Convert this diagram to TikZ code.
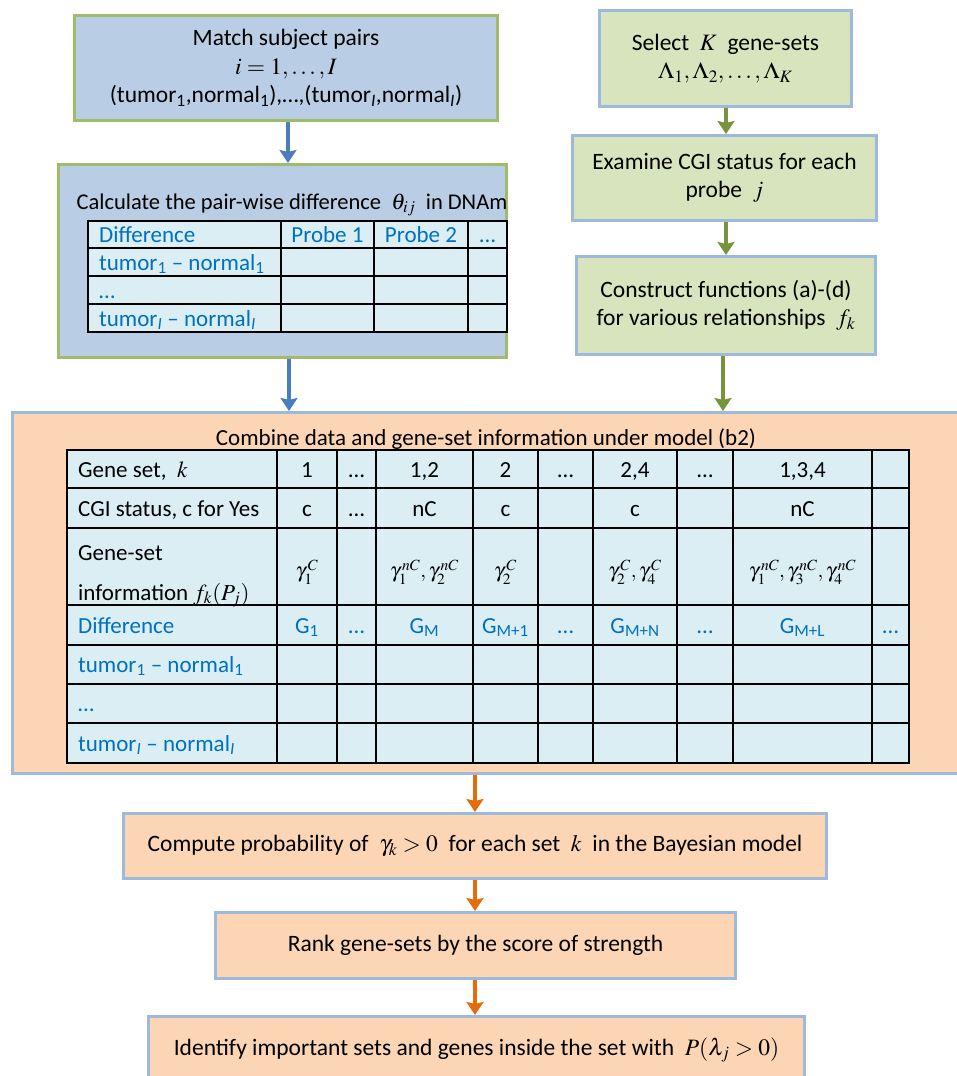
\documentclass[tikz,border=0pt]{standalone}
\usepackage{mathptmx}
\usepackage{fontspec}
\setmainfont{Carlito}
\usetikzlibrary{arrows.meta,calc}
\definecolor{bluefill}{RGB}{185,205,229}
\definecolor{greenedge}{RGB}{160,187,105}
\definecolor{greenfill}{RGB}{215,228,189}
\definecolor{blueedge}{RGB}{157,185,220}
\definecolor{peachfill}{RGB}{252,213,181}
\definecolor{cellfill}{RGB}{218,238,243}
\definecolor{arrblue}{RGB}{74,125,190}
\definecolor{arrgreen}{RGB}{119,147,60}
\definecolor{arrorange}{RGB}{228,108,10}
\definecolor{bluetext}{RGB}{0,112,192}
\begin{document}
\begin{tikzpicture}[x=1pt,y=-1pt,
  bx/.style={line width=3pt, inner sep=0pt, font=\fontsize{23.5}{28.5}\selectfont, align=center},
  bluebx/.style={bx, fill=bluefill, draw=greenedge},
  greenbx/.style={bx, fill=greenfill, draw=blueedge},
  peachbx/.style={bx, fill=peachfill, draw=blueedge},
  txt/.style={font=\fontsize{23}{28}\selectfont, align=center, inner sep=0pt},
  ct/.style={font=\fontsize{23}{28}\selectfont, inner sep=0pt, anchor=base},
  ctl/.style={ct, anchor=base west},
  mt/.style={font=\fontsize{21}{26}\selectfont, inner sep=0pt},
  bt/.style={text=bluetext},
  grid/.style={draw=black, line width=1.8pt},
  arr/.style={line width=4pt, -{Stealth[length=13pt,width=17pt,inset=2pt]}},
]
\useasboundingbox (0,0) rectangle (956,1076);
\fill[white] (0,0) rectangle (956,1076);

% ---------- left column ----------
\node[bluebx, minimum width=423, minimum height=105] (match) at (286,68)
  {Match subject pairs\\ $i=1,\ldots,I$\\
   (tumor\textsubscript{1},normal\textsubscript{1}),…,(tumor\textsubscript{\textit{I}},normal\textsubscript{\textit{I}})};

\node[bluebx, minimum width=448, minimum height=193] (calc) at (282.5,261) {};
\node[txt, font=\fontsize{22.5}{28}\selectfont] (calct) at (292,205) {Calculate the pair-wise difference \ $\theta_{ij}$\ \ in DNAm};

% small table
\fill[cellfill] (88,221) rectangle (507,332);
\foreach \x in {281,374,468} \draw[grid] (\x,221) -- (\x,332);
\foreach \y in {248,276,304} \draw[grid] (88,\y) -- (507,\y);
\draw[grid] (88,221) rectangle (507,332);
\node[ctl,bt] (d00) at (99,242) {Difference};
\node[ct,bt] (d01) at (327.5,242) {Probe 1};
\node[ct,bt] (d02) at (421,242) {Probe 2};
\node[ct,bt] (d03) at (487.5,242) {…};
\node[ctl,bt] (d10) at (99,270) {tumor\textsubscript{1} – normal\textsubscript{1}};
\node[ctl,bt] (d20) at (99,298) {…};
\node[ctl,bt] (d30) at (99,326) {tumor\textsubscript{\textit{I}} – normal\textsubscript{\textit{I}}};

% ---------- right column ----------
\node[greenbx, minimum width=252, minimum height=96] (sel) at (725.5,58.5)
  {Select \ $K$\ \ gene-sets\\ $\Lambda_1,\Lambda_2,\ldots,\Lambda_K$};
\node[greenbx, minimum width=304, minimum height=85] (exam) at (724.5,178)
  {Examine CGI status for each\\ probe \ $j$};
\node[greenbx, minimum width=299, minimum height=98] (cons) at (726,305.5)
  {Construct functions (a)-(d)\\ for various relationships \ $f_k$};

% ---------- combine box ----------
\node[peachbx, minimum width=946, minimum height=361] (comb) at (485,593) {};
\node[txt] (combt) at (486,439) {Combine data and gene-set information under model (b2)};

\fill[cellfill] (67,450) rectangle (909,763);
\foreach \x in {277,337,376,473,538,593,677,733,872} \draw[grid] (\x,450) -- (\x,763);
\foreach \y in {488,528,605,645,684,723} \draw[grid] (67,\y) -- (909,\y);
\draw[grid, line width=2.2pt] (67,450) rectangle (909,763);

% row 1
\node[ctl] (g1a) at (78,477) {Gene set, \ $k$};
\node[ct] (g1b) at (307,477) {1};
\node[ct] (g1c) at (356.5,477) {…};
\node[ct] (g1d) at (424.5,477) {1,2};
\node[ct] (g1e) at (505.5,477) {2};
\node[ct] (g1f) at (565.5,477) {…};
\node[ct] (g1g) at (635,477) {2,4};
\node[ct] (g1h) at (705,477) {…};
\node[ct] (g1i) at (802.5,477) {1,3,4};
% row 2
\node[ctl] (g2a) at (78,516) {CGI status, c for Yes};
\node[ct] (g2b) at (307,516) {c};
\node[ct] (g2c) at (356.5,516) {…};
\node[ct] (g2d) at (424.5,516) {nC};
\node[ct] (g2e) at (505.5,516) {c};
\node[ct] (g2g) at (635,516) {c};
\node[ct] (g2i) at (802.5,516) {nC};
% row 3
\node[ctl] (g3a) at (78,560) {Gene-set};
\node[ctl] (g3a2) at (78,600) {information $f_k(P_j)$};
\node[mt] (g3b) at (307,572) {$\gamma_1^{\,C}$};
\node[mt] (g3d) at (424.5,572) {$\gamma_1^{\,nC},\gamma_2^{\,nC}$};
\node[mt] (g3e) at (505.5,572) {$\gamma_2^{\,C}$};
\node[mt] (g3g) at (635,572) {$\gamma_2^{\,C},\gamma_4^{\,C}$};
\node[mt] (g3i) at (802.5,572) {$\gamma_1^{\,nC},\gamma_3^{\,nC},\gamma_4^{\,nC}$};
% row 4
\node[ctl,bt] (g4a) at (78,633) {Difference};
\node[ct,bt] (g4b) at (307,633) {G\textsubscript{1}};
\node[ct,bt] (g4c) at (356.5,633) {…};
\node[ct,bt] (g4d) at (424.5,633) {G\textsubscript{M}};
\node[ct,bt] (g4e) at (505.5,633) {G\textsubscript{M+1}};
\node[ct,bt] (g4f) at (565.5,633) {…};
\node[ct,bt] (g4g) at (635,633) {G\textsubscript{M+N}};
\node[ct,bt] (g4h) at (705,633) {…};
\node[ct,bt] (g4i) at (802.5,633) {G\textsubscript{M+L}};
\node[ct,bt] (g4j) at (890.5,633) {…};
% rows 5-7
\node[ctl,bt] (g5a) at (78,672.5) {tumor\textsubscript{1} – normal\textsubscript{1}};
\node[ctl,bt] (g6a) at (78,711.5) {…};
\node[ctl,bt] (g7a) at (78,751) {tumor\textsubscript{\textit{I}} – normal\textsubscript{\textit{I}}};

% ---------- bottom boxes ----------
\node[peachbx, minimum width=703, minimum height=65] (comp) at (475,846)
  {Compute probability of \ $\gamma_k>0$\ \ for each set \ $k$\ \ in the Bayesian model};
\node[peachbx, minimum width=520, minimum height=66] (rank) at (475.5,945.5)
  {Rank gene-sets by the score of strength};
\node[peachbx, minimum width=656, minimum height=67] (iden) at (476.5,1050)
  {Identify important sets and genes inside the set with \ $P(\lambda_j>0)$};

% ---------- arrows ----------
\coordinate (xa) at (288,0);
\coordinate (xb) at (289,0);
\coordinate (xc) at (726,0);
\coordinate (xd) at (723,0);
\coordinate (xe) at (475,0);
\draw[arr, color=arrblue] (xa |- match.south) -- (xa |- calc.north);
\draw[arr, color=arrblue] (xb |- calc.south) -- (xb |- comb.north);
\draw[arr, color=arrgreen] (xc |- sel.south) -- (xc |- exam.north);
\draw[arr, color=arrgreen] (xc |- exam.south) -- (xc |- cons.north);
\draw[arr, color=arrgreen] (xd |- cons.south) -- (xd |- comb.north);
\draw[arr, color=arrorange] (xe |- comb.south) -- (xe |- comp.north);
\draw[arr, color=arrorange] (xe |- comp.south) -- (xe |- rank.north);
\draw[arr, color=arrorange] (xe |- rank.south) -- (xe |- iden.north);
\end{tikzpicture}
\end{document}
